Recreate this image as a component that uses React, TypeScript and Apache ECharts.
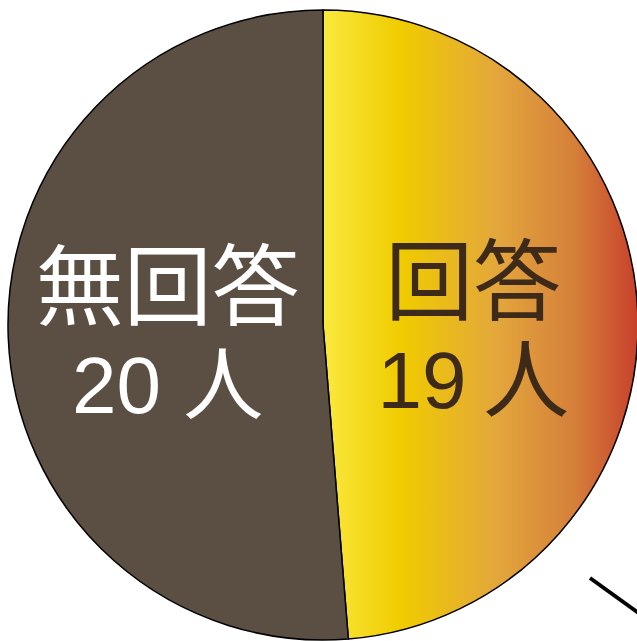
import React, { useEffect, useRef } from "react";
import * as echarts from "echarts";

const categories = ["回答", "無回答"];
const values = [19, 20];
const unitLabel = "人";

export default function App() {
  const ref = useRef<HTMLDivElement>(null);
  useEffect(() => {
    document.body.style.margin = "0";
    const chart = echarts.init(ref.current!, undefined, { renderer: "svg" });
    const font = '"Liberation Sans", "Noto Sans CJK JP", sans-serif';
    const grad = new echarts.graphic.LinearGradient(0, 0, 1, 0, [
      { offset: 0, color: "#fae93e" },
      { offset: 0.25, color: "#f0cb00" },
      { offset: 0.55, color: "#e3a73c" },
      { offset: 0.8, color: "#d57f3a" },
      { offset: 1, color: "#c8402c" },
    ]);
    const colors = [grad, "#5b4f44"];
    const textColors = ["#3e2a18", "#ffffff"];
    chart.setOption({
      animation: false,
      backgroundColor: "#ffffff",
      series: [
        {
          type: "pie",
          center: [323, 325],
          radius: 315,
          startAngle: 90,
          clockwise: true,
          silent: true,
          itemStyle: { borderColor: "#000", borderWidth: 1.5 },
          label: {
            show: true,
            position: "inside",
            fontFamily: font,
            align: "center",
          },
          labelLine: { show: false },
          data: categories.map((c, i) => ({
            name: c,
            value: values[i],
            itemStyle: { color: colors[i] },
            label: {
              color: textColors[i],
              offset: i === 0 ? [-10, 12] : [5, 4],
              formatter: (p: any) =>
                `{a|${p.name}}\n{b|${p.value}}{s| }{c|${unitLabel}}`,
              rich: {
                a: { fontFamily: font, fontSize: 88, lineHeight: 100, color: textColors[i] },
                b: { fontFamily: font, fontSize: 80, lineHeight: 96, color: textColors[i] },
                s: { fontFamily: font, fontSize: i === 0 ? 60 : 80, lineHeight: 96 },
                c: { fontFamily: font, fontSize: i === 0 ? 86 : 80, lineHeight: 96, color: textColors[i] },
              },
            },
          })),
        },
      ],
      graphic: [
        {
          type: "line",
          shape: { x1: 590, y1: 578, x2: 640, y2: 614 },
          style: { stroke: "#000", lineWidth: 4 },
        },
      ],
    });
    return () => chart.dispose();
  }, []);
  return <div ref={ref} style={{ width: 637, height: 641 }} />;
}
